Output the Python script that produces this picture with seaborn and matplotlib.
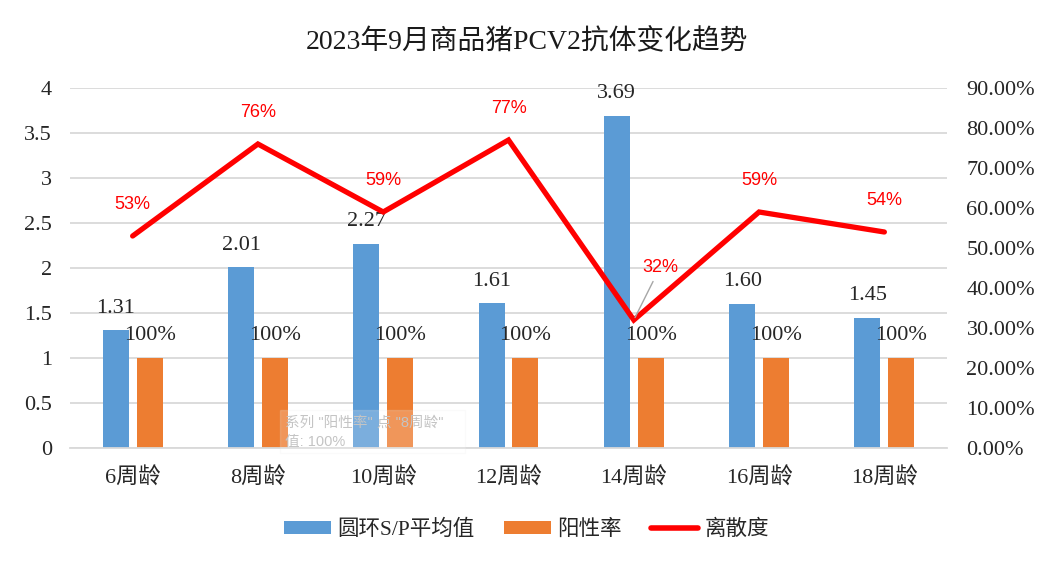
import numpy as np
import pandas as pd
import matplotlib
matplotlib.use("Agg")
import matplotlib.pyplot as plt
from matplotlib.patches import Patch, Rectangle
from matplotlib.lines import Line2D
import seaborn as sns

# ---- data ----
weeks = ["6周龄", "8周龄", "10周龄", "12周龄", "14周龄", "16周龄", "18周龄"]
sp_mean = [1.31, 2.01, 2.27, 1.61, 3.69, 1.60, 1.45]
positive_rate = [100, 100, 100, 100, 100, 100, 100]   # %
dispersion = [53, 76, 59, 77, 32, 59, 54]             # %
left_ticks = [0, 0.5, 1, 1.5, 2, 2.5, 3, 3.5, 4]
right_ticks = [0, 10, 20, 30, 40, 50, 60, 70, 80, 90]  # %
series_names = ["圆环S/P平均值", "阳性率", "离散度"]
title = "2023年9月商品猪PCV2抗体变化趋势"

BLUE = "#5B9BD5"
ORANGE = "#ED7D31"
RED = "#FF0000"
GRID = "#D9D9D9"

sns.set_theme(style="white")
plt.rcParams["font.family"] = ["Liberation Serif", "Noto Sans CJK SC"]
SANS = ["Liberation Sans", "Noto Sans CJK SC"]

W, H = 1053, 564
fig = plt.figure(figsize=(W / 100, H / 100), dpi=100)
fig.patch.set_facecolor("white")
ax = fig.add_axes([70 / W, 116 / H, 877 / W, 360 / H])

# ---- bars ----
df = pd.DataFrame({
    "week": weeks * 2,
    "value": sp_mean + [p / 100 for p in positive_rate],
    "series": [series_names[0]] * len(weeks) + [series_names[1]] * len(weeks),
})
sns.barplot(data=df, x="week", y="value", hue="series", order=weeks,
            hue_order=series_names[:2], palette=[BLUE, ORANGE], saturation=1,
            width=0.54, gap=0.23, linewidth=0, edgecolor="none",
            legend=False, ax=ax)

ax.bar_label(ax.containers[0], labels=[f"{v:.2f}" for v in sp_mean],
             padding=9, fontsize=16, color="#262626")
ax.bar_label(ax.containers[1], labels=[f"{v}%" for v in positive_rate],
             padding=9, fontsize=16, color="#262626")

ax.set_ylim(0, 4)
ax.set_xlim(-0.5, len(weeks) - 0.5)
ax.set_yticks(left_ticks)
ax.set_yticklabels([f"{t:g}" for t in left_ticks])
ax.set_xlabel("")
ax.set_ylabel("")
ax.yaxis.grid(True, color=GRID, linewidth=1.3)
ax.set_axisbelow(True)
for s in ["top", "left", "right"]:
    ax.spines[s].set_visible(False)
ax.spines["bottom"].set_color(GRID)
ax.spines["bottom"].set_linewidth(1.3)
ax.tick_params(axis="y", length=0, pad=13, labelsize=16, labelcolor="#262626")
ax.tick_params(axis="x", which="major", length=0, pad=14, labelsize=16,
               labelcolor="#262626")
ax.set_xticks(np.arange(-0.5, len(weeks), 1), minor=True)
ax.tick_params(axis="x", which="minor", length=32, width=1.3, color=GRID,
               direction="out")

# ---- dispersion line on the right axis ----
ax2 = ax.twinx()
x_pos = np.arange(len(weeks))
disp = np.array(dispersion) / 100
sns.lineplot(x=x_pos, y=disp, color=RED, linewidth=3.8, ax=ax2,
             solid_capstyle="round", solid_joinstyle="miter")
ax2.set_ylim(0, 0.9)
ax2.set_xlim(-0.5, len(weeks) - 0.5)
ax2.set_yticks([t / 100 for t in right_ticks])
ax2.set_yticklabels([f"{t:.2f}%" for t in right_ticks])
ax2.set_ylabel("")
ax2.tick_params(axis="y", length=0, pad=14, labelsize=16, labelcolor="#262626")
for s in ax2.spines.values():
    s.set_visible(False)
ax2.grid(False)

for i, d in enumerate(dispersion):
    if weeks[i] == "14周龄":
        ax2.annotate(f"{d}%", xy=(x_pos[i], disp[i]), xytext=(19, 38),
                     textcoords="offset points", ha="center", va="center",
                     fontsize=13, color=RED, family=SANS,
                     arrowprops=dict(arrowstyle="-", color="#A6A6A6", lw=1,
                                     shrinkA=2, shrinkB=2))
    else:
        ax2.annotate(f"{d}%", xy=(x_pos[i], disp[i]), xytext=(0, 23),
                     textcoords="offset points", ha="center", va="center",
                     fontsize=13, color=RED, family=SANS)

# ---- title & legend ----
fig.text(0.5, 1 - 42 / H, title, ha="center", va="center", fontsize=20,
         color="#1a1a1a")

handles = [Patch(facecolor=BLUE, edgecolor="none"),
           Patch(facecolor=ORANGE, edgecolor="none"),
           Line2D([], [], color=RED, linewidth=4, solid_capstyle="round")]
fig.legend(handles=handles, labels=series_names, loc="center",
           bbox_to_anchor=(0.5, 1 - 530 / H), ncol=3, frameon=False,
           fontsize=15.5, handlelength=2.2, handleheight=0.5,
           handletextpad=0.3, columnspacing=1.35, labelcolor="#262626")

# ---- faint tooltip left over in the screenshot ----
fig.patches.append(Rectangle((280 / W, 1 - 453 / H), 185 / W, 43 / H,
                             transform=fig.transFigure, facecolor="white",
                             alpha=0.2, edgecolor="#E6E6E6", linewidth=1,
                             zorder=10))
fig.text(285 / W, 1 - 423 / H, '系列 "阳性率" 点 "8周龄"', fontsize=10.5,
         color="#C4C4C4", va="center", ha="left", family=SANS, zorder=11)
fig.text(285 / W, 1 - 442 / H, "值: 100%", fontsize=10.5,
         color="#C4C4C4", va="center", ha="left", family=SANS, zorder=11)

fig.savefig("out.png", dpi=100, facecolor="white")
